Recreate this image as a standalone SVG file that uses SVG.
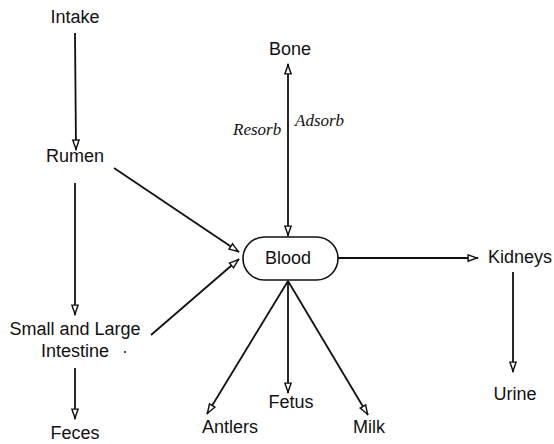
<svg xmlns="http://www.w3.org/2000/svg" width="554" height="444" viewBox="0 0 554 444">
<style>
.t{font-family:"Liberation Sans",Arial,sans-serif;font-size:18px;fill:#111;text-anchor:middle}
.i{font-family:"Liberation Serif","Times New Roman",serif;font-style:italic;font-size:17px;fill:#111}
.c{stroke:#111;stroke-width:1.8;fill:none}
</style>
<defs>
<marker id="a" viewBox="0 0 12 10" refX="12" refY="5" markerWidth="12" markerHeight="9" markerUnits="userSpaceOnUse" orient="auto">
<path d="M1,1.5 L11,5 L1,8.5 Z" fill="#fff" stroke="#111" stroke-width="1.6"/>
</marker>
</defs>
<rect width="554" height="444" fill="#fff"/>
<g id="connectors">
<line class="c" x1="75" y1="33" x2="76" y2="150" marker-end="url(#a)"/>
<line class="c" x1="75" y1="183" x2="75" y2="315" marker-end="url(#a)"/>
<line class="c" x1="75" y1="368" x2="75" y2="419" marker-end="url(#a)"/>
<line class="c" x1="114" y1="168" x2="239" y2="252" marker-end="url(#a)"/>
<line class="c" x1="151" y1="335" x2="239" y2="259" marker-end="url(#a)"/>
<line class="c" x1="288" y1="150" x2="288" y2="64" marker-end="url(#a)"/>
<line class="c" x1="288" y1="150" x2="288" y2="236" marker-end="url(#a)"/>
<line class="c" x1="338" y1="258" x2="478" y2="258" marker-end="url(#a)"/>
<line class="c" x1="513" y1="272" x2="513" y2="372" marker-end="url(#a)"/>
<line class="c" x1="288" y1="281" x2="207" y2="414" marker-end="url(#a)"/>
<line class="c" x1="288" y1="281" x2="288" y2="393" marker-end="url(#a)"/>
<line class="c" x1="288" y1="281" x2="368" y2="415" marker-end="url(#a)"/>
<circle cx="125" cy="352" r="1" fill="#111"/>
</g>
<g id="intake"><text class="t" x="75" y="23">Intake</text></g>
<g id="rumen"><text class="t" x="75" y="162">Rumen</text></g>
<g id="intestine"><text class="t" x="75" y="335">Small and Large</text><text class="t" x="75" y="357">Intestine</text></g>
<g id="feces"><text class="t" x="75" y="439">Feces</text></g>
<g id="bone"><text class="t" x="290" y="55">Bone</text></g>
<g id="labels"><text class="i" x="233" y="135">Resorb</text><text class="i" x="295" y="126">Adsorb</text></g>
<g id="blood"><rect x="243" y="237" width="95" height="43" rx="21.5" fill="#fff" stroke="#111" stroke-width="1.6"/><text class="t" x="288" y="264">Blood</text></g>
<g id="kidneys"><text class="t" x="520" y="263">Kidneys</text></g>
<g id="urine"><text class="t" x="515" y="400">Urine</text></g>
<g id="antlers"><text class="t" x="230" y="433">Antlers</text></g>
<g id="fetus"><text class="t" x="291" y="408">Fetus</text></g>
<g id="milk"><text class="t" x="369" y="433">Milk</text></g>
</svg>
